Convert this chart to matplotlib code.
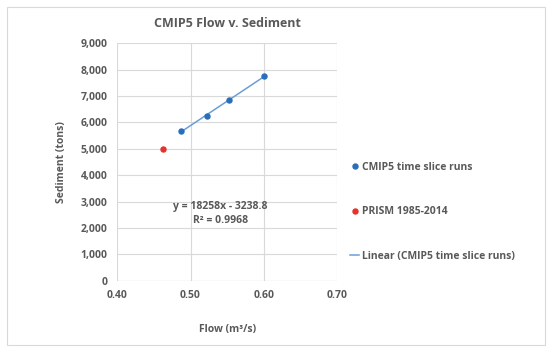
import numpy as np
import matplotlib.pyplot as plt
from matplotlib.lines import Line2D
from matplotlib.patches import Rectangle

# data
cmip5_flow = [0.487, 0.523, 0.552, 0.601]
cmip5_sed = [5680, 6240, 6860, 7760]
prism_flow = [0.463]
prism_sed = [5000]
x_ticks = [0.40, 0.50, 0.60, 0.70]
y_ticks = [0, 1000, 2000, 3000, 4000, 5000, 6000, 7000, 8000, 9000]

plt.rcParams['font.family'] = ['Open Sans', 'DejaVu Sans']
txt = "#595959"
blue = "#2a6ebb"
red = "#e0342c"
trend = "#6a9fd6"

fig = plt.figure(figsize=(5.5, 3.53), dpi=100)
fig.patches.append(Rectangle((0.012, 0.022), 0.978, 0.958, transform=fig.transFigure,
                             fill=False, edgecolor="#d9d9d9", lw=0.8))
ax = fig.add_axes([0.2133, 0.2048, 0.3994, 0.6725])

ax.scatter(cmip5_flow, cmip5_sed, s=13, color=blue, zorder=3)
ax.scatter(prism_flow, prism_sed, s=13, color=red, zorder=3)

# linear trendline fit to the CMIP5 points
k, b = np.polyfit(cmip5_flow, cmip5_sed, 1)
xs = np.array([min(cmip5_flow), max(cmip5_flow)])
ax.plot(xs, k * xs + b, color=trend, lw=1.1, zorder=2)

ax.text(0.541, 2800, "y = 18258x - 3238.8", ha="center", va="center",
        fontsize=7.5, fontweight="bold", color=txt)
ax.text(0.541, 2300, "R² = 0.9968", ha="center", va="center",
        fontsize=7.5, fontweight="bold", color=txt)

ax.set_xlim(0.40, 0.70)
ax.set_ylim(0, 9000)
ax.set_xticks(x_ticks)
ax.set_yticks(y_ticks)
ax.set_xticklabels([f"{v:.2f}" for v in x_ticks])
ax.set_yticklabels([f"{v:,}" for v in y_ticks])
ax.tick_params(length=0, labelsize=7.5, colors=txt, pad=7)
for lab in ax.get_xticklabels() + ax.get_yticklabels():
    lab.set_fontweight("bold")
ax.grid(True, color="#d9d9d9", lw=0.8)
ax.set_axisbelow(True)
for s in ax.spines.values():
    s.set_visible(False)
ax.axhline(0, color="#c8c8c8", lw=0.8, zorder=1)

ax.set_title("CMIP5 Flow v. Sediment", fontsize=9, fontweight="bold", color=txt, pad=12)
ax.set_xlabel("Flow (m³/s)", fontsize=7.5, fontweight="bold", color=txt, labelpad=16)
ax.set_ylabel("Sediment (tons)", fontsize=7.5, fontweight="bold", color=txt, labelpad=10)

handles = [
    Line2D([], [], marker="o", ls="", color=blue, markersize=3.6),
    Line2D([], [], marker="o", ls="", color=red, markersize=3.6),
    Line2D([], [], color=trend, lw=1.1),
]
labels = ["CMIP5 time slice runs", "PRISM 1985-2014", "Linear (CMIP5 time slice runs)"]
leg = fig.legend(handles, labels, loc="center left", bbox_to_anchor=(0.62, 0.40),
                 frameon=False, fontsize=7.5, labelspacing=3.2, handlelength=0.8,
                 handletextpad=0.3, labelcolor=txt)
for t in leg.get_texts():
    t.set_fontweight("bold")

fig.savefig("out.png", dpi=100)
